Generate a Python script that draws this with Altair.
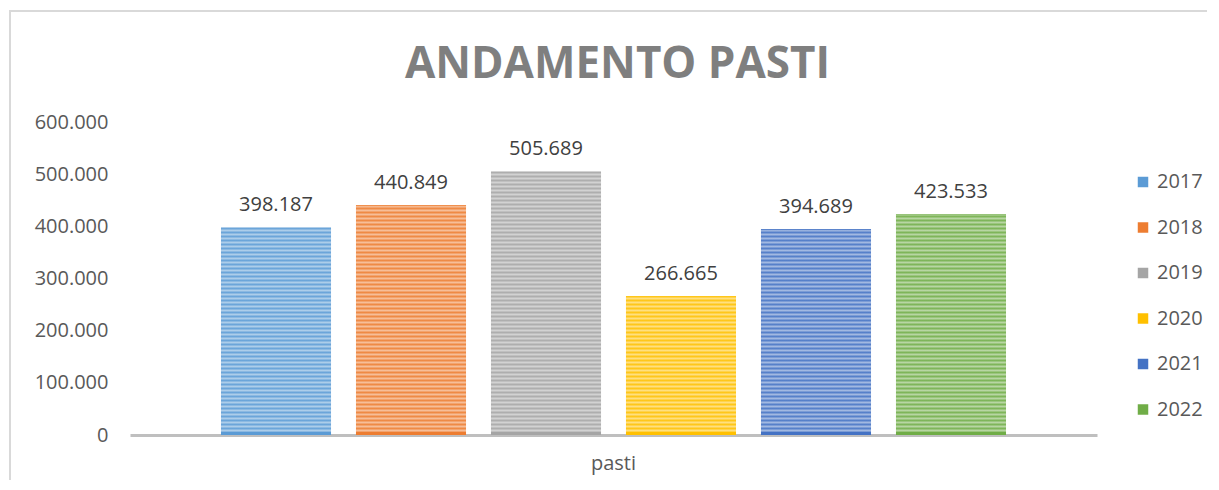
import altair as alt
import pandas as pd

# ---- data ----
years = ["2017", "2018", "2019", "2020", "2021", "2022"]
values = [398187, 440849, 505689, 266665, 394689, 423533]
category = ["pasti"] * 6
colors = ["#5B9BD5", "#ED7D31", "#A5A5A5", "#FFC000", "#4472C4", "#70AD47"]
y_ticks = [0, 100000, 200000, 300000, 400000, 500000, 600000]
title_text = "ANDAMENTO PASTI"

df = pd.DataFrame({"cat": category, "year": years, "value": values})

PLOT_W, PLOT_H = 967, 313
Y_MAX = 600000
FONT = "Open Sans"


def lighten(hexc, t=0.5):
    h = hexc.lstrip("#")
    r, g, b = (int(h[i:i + 2], 16) for i in (0, 2, 4))
    r, g, b = (round(c + (255 - c) * t) for c in (r, g, b))
    return "#{:02x}{:02x}{:02x}".format(r, g, b)


def stripes(color, value, period=4.0, dark=3.0):
    # stripes laid out from the bar's bottom so edges fall on whole pixels
    h = value / Y_MAX * PLOT_H
    light = lighten(color, 0.6)
    stops = []
    pos = 0.0
    while pos < h:
        d_end = min(pos + dark, h)
        l_end = min(pos + period, h)
        o0, o1, o2 = 1 - pos / h, 1 - d_end / h, 1 - l_end / h
        stops += [
            alt.GradientStop(offset=o2, color=light),
            alt.GradientStop(offset=o1, color=light),
            alt.GradientStop(offset=o1, color=color),
            alt.GradientStop(offset=o0, color=color),
        ]
        pos += period
    stops = sorted(stops, key=lambda s: s.offset)
    return alt.Gradient(gradient="linear", stops=stops, x1=0, x2=0, y1=0, y2=1)


x_enc = alt.X(
    "cat:N",
    scale=alt.Scale(paddingOuter=0.0969, paddingInner=0),
    axis=alt.Axis(
        title=None, labelAngle=0, ticks=False, domainColor="#bfbfbf",
        domainWidth=3, labelFontSize=20, labelColor="#595959",
        labelFont=FONT, labelPadding=18, grid=False,
    ),
)
xoff_enc = alt.XOffset(
    "year:N",
    scale=alt.Scale(domain=years, paddingInner=0.185, paddingOuter=0.0926),
)
y_enc = alt.Y(
    "value:Q",
    scale=alt.Scale(domain=[0, Y_MAX]),
    axis=alt.Axis(
        values=y_ticks, title=None, domain=False, ticks=False, grid=False,
        labelExpr="replace(format(datum.value, ','), ',', '.')",
        labelFontSize=20, labelColor="#595959", labelFont=FONT, labelPadding=22,
    ),
)

base = alt.Chart(df).mark_bar().encode(
    x=x_enc,
    xOffset=xoff_enc,
    y=y_enc,
    color=alt.Color(
        "year:N",
        scale=alt.Scale(domain=years, range=colors),
        legend=alt.Legend(
            title=None, orient="none", legendX=1003, legendY=50,
            symbolType="square", symbolSize=110, symbolStrokeWidth=0,
            labelFontSize=20, labelColor="#595959", labelFont=FONT,
            rowPadding=25.5,
        ),
    ),
)

stripe_layers = []
for yr, val, col in zip(years, values, colors):
    stripe_layers.append(
        alt.Chart(df)
        .transform_filter(alt.datum.year == yr)
        .mark_bar(fill=stripes(col, val))
        .encode(x=x_enc, xOffset=xoff_enc, y=y_enc)
    )

labels = (
    alt.Chart(df)
    .transform_calculate(label="replace(format(datum.value, ','), ',', '.')")
    .mark_text(baseline="bottom", dy=-12, fontSize=20, color="#404040", font=FONT)
    .encode(x=x_enc, xOffset=xoff_enc, y=y_enc, text="label:N")
)

title = (
    alt.Chart(pd.DataFrame({"t": [title_text]}))
    .mark_text(fontSize=44, font=FONT, fontWeight="bold", color="#7f7f7f",
               baseline="alphabetic", align="center")
    .encode(x=alt.value(PLOT_W / 2 + 4), y=alt.value(-44), text="t:N")
)

frame = (
    alt.Chart(pd.DataFrame({"f": [0]}))
    .mark_rect(fill=None, stroke="#d9d9d9", strokeWidth=2)
    .encode(
        x=alt.value(-120), x2=alt.value(PLOT_W + 200),
        y=alt.value(-111), y2=alt.value(PLOT_H + 200),
    )
)

chart = (
    alt.layer(frame, base, *stripe_layers, labels, title)
    .properties(
        width=PLOT_W,
        height=PLOT_H,
        padding={"left": 122, "top": 114, "right": 110, "bottom": 45},
        autosize=alt.AutoSizeParams(type="none"),
    )
    .configure_view(stroke=None)
)

chart.save("out.html", embed_options={"renderer": "svg", "actions": False})
